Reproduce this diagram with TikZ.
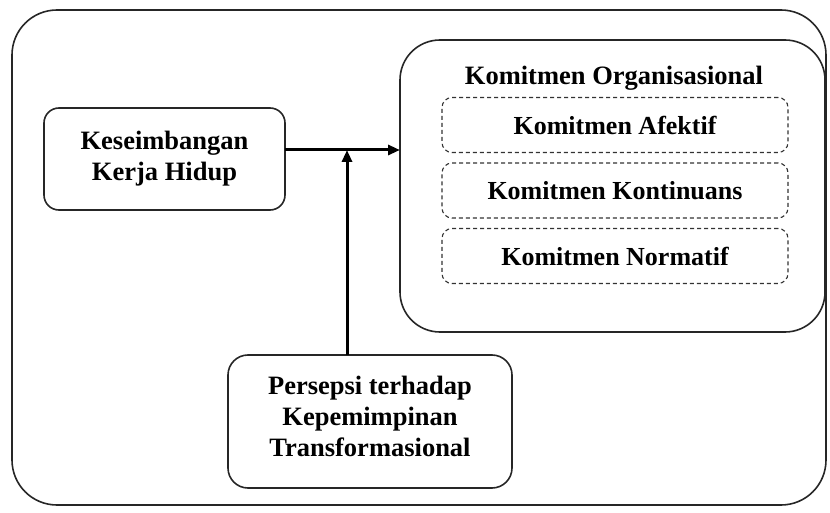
\documentclass[tikz,border=0pt]{standalone}
\usepackage{fontspec}
\setmainfont{Liberation Serif}
\usetikzlibrary{arrows.meta}
\begin{document}
\begin{tikzpicture}[x=1pt,y=-1pt,
  box/.style={draw=black!85, line width=1.6pt, rounded corners=#1},
  box/.default=15pt,
  dbox/.style={draw=black!80, line width=1.1pt, dash pattern=on 4pt off 3pt, rounded corners=10pt, minimum width=346pt, minimum height=55pt, font=\fontsize{26}{31}\selectfont\bfseries},
  lbl/.style={font=\fontsize{26.5}{31}\selectfont\bfseries, align=center, inner sep=0pt},
  conn/.style={line width=3pt, -{Triangle[length=12pt,width=10pt]}}]
\useasboundingbox (0,0) rectangle (830,513);
\draw[box=45pt] (12,10) rectangle (826,505);
% left box
\draw[box=15pt] (44,108) rectangle (285,210);
\node[lbl] (kkh) at (164.5,159) {Keseimbangan\\Kerja Hidup};
\coordinate (kkhE) at (285,150);
% right box
\draw[box=40pt] (400,40) rectangle (825,332);
\coordinate (koW) at (400,150);
\node[lbl] (ko) at (614,78) {Komitmen Organisasional};
\node[dbox] (ka) at (615,125) {Komitmen Afektif};
\node[dbox] (kk) at (615,190.5) {Komitmen Kontinuans};
\node[dbox] (kn) at (615,256) {Komitmen Normatif};
% bottom box
\draw[box=20pt] (228,355) rectangle (512,488);
\node[lbl] (pkt) at (370,416) {Persepsi terhadap\\Kepemimpinan\\Transformasional};
\coordinate (pktN) at (347,355);
\coordinate (mid) at (347,150);
\draw[conn] (kkhE) -- (koW);
\draw[conn] (pktN) -- (mid);
\end{tikzpicture}
\end{document}
